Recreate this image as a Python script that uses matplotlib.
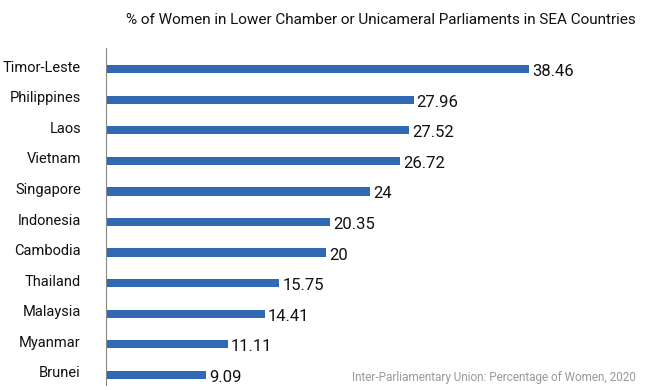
import matplotlib.pyplot as plt
import matplotlib.transforms as mtransforms

plt.rcParams['font.family'] = ['Roboto', 'DejaVu Sans']

countries = ['Timor-Leste', 'Philippines', 'Laos', 'Vietnam', 'Singapore', 'Indonesia',
             'Cambodia', 'Thailand', 'Malaysia', 'Myanmar', 'Brunei']
values = [38.46, 27.96, 27.52, 26.72, 24, 20.35, 20, 15.75, 14.41, 11.11, 9.09]
labels = ['38.46', '27.96', '27.52', '26.72', '24', '20.35', '20', '15.75', '14.41', '11.11', '9.09']

fig = plt.figure(figsize=(6.51, 3.90), dpi=100)
ax = fig.add_axes([106 / 651, 5 / 390, 534 / 651, 337 / 390])

ypos = list(range(len(countries)))[::-1]
ax.barh(ypos, values, height=0.27, color='#3169b4')
for y, v, lab in zip(ypos, values, labels):
    ax.text(v + 0.25, y - 0.08, lab, va='center', ha='left', fontsize=12, color='#111111')

ax.set_yticks(ypos)
ax.set_yticklabels(countries, fontsize=10.5, color='#111111')
ax.tick_params(axis='y', length=0, pad=18)
# country names sit a little above the bars
shift = mtransforms.ScaledTranslation(0, 3 / 100, fig.dpi_scale_trans)
for t in ax.get_yticklabels():
    t.set_transform(t.get_transform() + shift)
ax.set_xticks([])
ax.set_xlim(0, 48.5)
ax.set_ylim(-0.33, 10.69)
for s in ['top', 'right', 'bottom']:
    ax.spines[s].set_visible(False)
ax.spines['left'].set_color('#888888')
ax.spines['left'].set_linewidth(0.8)

fig.text(0.585, 1 - 20 / 390, '% of Women in Lower Chamber or Unicameral Parliaments in SEA Countries',
         ha='center', va='center', fontsize=11, color='#111111')
fig.text(636 / 651, 1 - 378 / 390, 'Inter-Parliamentary Union: Percentage of Women, 2020',
         ha='right', va='center', fontsize=8.5, color='#999999')

fig.savefig('out.png', dpi=100)
